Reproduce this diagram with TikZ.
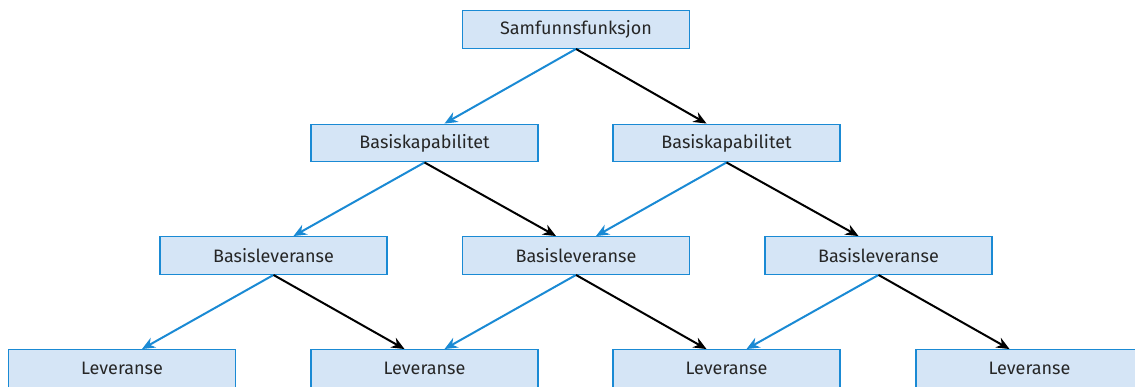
\documentclass[tikz,border=0pt]{standalone}
\usepackage{fontspec}
\setmainfont{Fira Sans}
\usetikzlibrary{arrows.meta,calc}
\definecolor{boxfill}{HTML}{D5E5F6}
\definecolor{boxline}{HTML}{1A8AD4}
\tikzset{
  x=1pt, y=1pt,
  unit/.style={draw=boxline, fill=boxfill, line width=1.4pt,
    minimum width=227pt, minimum height=37.5pt, inner sep=0pt,
    font=\fontsize{18}{20}\selectfont, text=black!85},
  leftlink/.style={draw=boxline, line width=2pt, -{Stealth[length=13pt,width=11pt]}},
  rightlink/.style={draw=black, line width=2pt, -{Stealth[length=13pt,width=11pt]}}
}
\begin{document}
\begin{tikzpicture}
\useasboundingbox (0,0) rectangle (1135,-387);
\clip (0,0) rectangle (1135,-387);
% level 1
\node[unit] (f)  at (576,-29.5) {\raisebox{-1.5pt}{Samfunnsfunksjon}};
% level 2
\node[unit] (k1) at (424.5,-143) {\raisebox{-1.5pt}{Basiskapabilitet}};
\node[unit] (k2) at (726.5,-143) {\raisebox{-1.5pt}{Basiskapabilitet}};
% level 3
\node[unit] (b1) at (273.5,-255.5) {\raisebox{-1.5pt}{Basisleveranse}};
\node[unit] (b2) at (576,-255.5) {\raisebox{-1.5pt}{Basisleveranse}};
\node[unit] (b3) at (878.5,-255.5) {\raisebox{-1.5pt}{Basisleveranse}};
% level 4
\node[unit] (l1) at (122,-368.5) {\raisebox{-1.5pt}{Leveranse}};
\node[unit] (l2) at (424.5,-368.5) {\raisebox{-1.5pt}{Leveranse}};
\node[unit] (l3) at (726.5,-368.5) {\raisebox{-1.5pt}{Leveranse}};
\node[unit] (l4) at (1029.5,-368.5) {\raisebox{-1.5pt}{Leveranse}};
% links: left child in blue, right child in black
\foreach \p/\a/\b in {f/k1/k2, k1/b1/b2, k2/b2/b3, b1/l1/l2, b2/l2/l3, b3/l3/l4} {
  \draw[leftlink]  (\p.south) -- ($(\a.north)+(20,0)$);
  \draw[rightlink] (\p.south) -- ($(\b.north)+(-20,0)$);
}
\end{tikzpicture}
\end{document}
